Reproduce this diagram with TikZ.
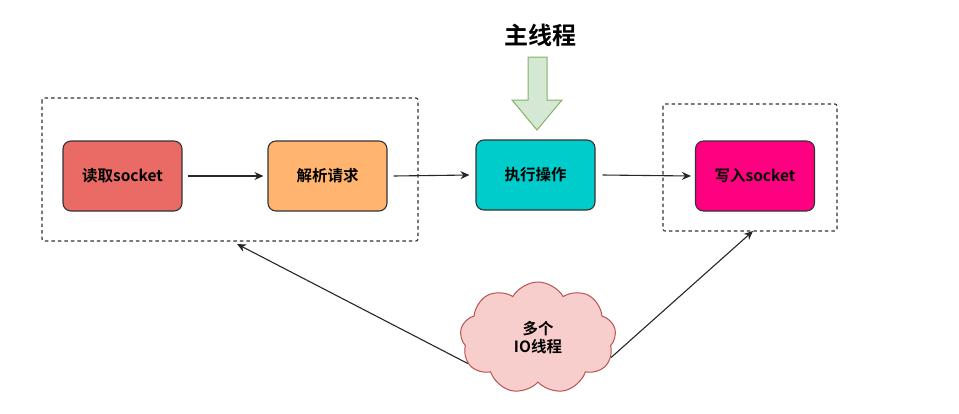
\documentclass[tikz,border=0pt]{standalone}
\usepackage{fontspec}
\setmainfont{Noto Sans CJK SC}[BoldFont={* Bold}]
\usetikzlibrary{positioning,arrows.meta,shapes.symbols}
\definecolor{rdred}{HTML}{EA6B66}
\definecolor{parseor}{HTML}{FFB570}
\definecolor{execcy}{HTML}{00CCCC}
\definecolor{wrpink}{HTML}{FF0080}
\definecolor{mainfill}{HTML}{D5E8D4}
\definecolor{mainline}{HTML}{82B366}
\definecolor{iofill}{HTML}{F8CECC}
\definecolor{ioline}{HTML}{B85450}

\begin{document}
\begin{tikzpicture}[
    x=1pt,y=-1pt,
    box/.style={draw=black!80,rectangle,rounded corners=8pt,line width=1.1pt,
      minimum width=119pt,minimum height=70pt,align=center,font=\fontsize{15.5}{17}\selectfont\bfseries},
    grp/.style={draw=black!80,dash pattern=on 3.5pt off 3pt,line width=1.1pt,rounded corners=2pt},
    arr/.style={-{Stealth[length=9pt,width=8pt]},line width=1.1pt,black!85},
  ]
    \useasboundingbox (0,0) rectangle (959,413);
    % dashed groups
    \draw[grp] (42,98) rectangle (418,241);
    \draw[grp] (663,104) rectangle (837,231);
    % stages
    \node[box,fill=rdred]   (RD) at (122.5,176) {读取socket};
    \node[box,fill=parseor] (PR) at (327.5,176) {解析请求};
    \node[box,fill=execcy]  (EX) at (535.5,175) {执行操作};
    \node[box,fill=wrpink]  (WR) at (755,176)   {写入socket};
    \draw[arr] (RD.east) ++(5,0) -- ([xshift=-4pt]PR.west);
    \draw[arr] (PR.east) ++(6,0) -- ([xshift=-6pt]EX.west);
    \draw[arr] (EX.east) ++(7,0) -- ([xshift=-4pt]WR.west);
    % main thread
    \node[font=\fontsize{24}{26}\selectfont\bfseries] (MT) at (540,35) {主线程};
    \draw[draw=mainline,fill=mainfill,line width=1pt]
      (528,57) -- (547,57) -- (547,100) -- (562,100) -- (537,130)
      -- (512,100) -- (528,100) -- cycle;
    % io threads
    \node[cloud,cloud puffs=9,cloud puff arc=120,aspect=1.5,draw=ioline,fill=iofill,
      line width=1pt,minimum width=156pt,minimum height=112pt,inner sep=0pt,align=center,
      font=\fontsize{15.5}{18}\selectfont\bfseries] (IO) at (538,338) {多个\\IO线程};
    \coordinate (GA) at (237,244);
    \coordinate (GB) at (753,231);
    \draw[arr] (IO.200) -- (GA);
    \draw[arr] (IO.345) -- (GB);
\end{tikzpicture}
\end{document}
